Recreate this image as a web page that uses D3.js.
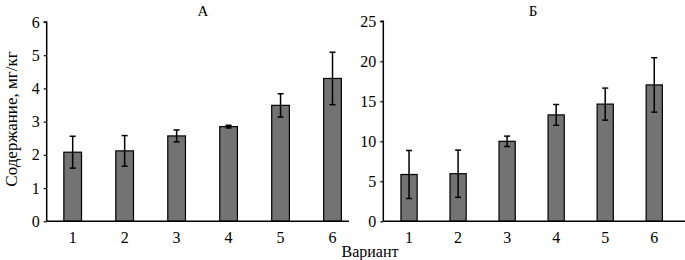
<!DOCTYPE html>
<html><head><meta charset="utf-8">
<script src="https://cdn.jsdelivr.net/npm/d3@7"></script>
<style>body{margin:0;background:#fff}svg{display:block}text{font-family:"Liberation Serif","DejaVu Serif",serif}</style>
</head><body>
<svg id="c" width="685" height="260"></svg>
<script>
const categories = ["1","2","3","4","5","6"];
const valuesA = [2.08, 2.12, 2.57, 2.85, 3.49, 4.30];
const errorsA = [0.48, 0.46, 0.18, 0.04, 0.35, 0.79];
const valuesB = [5.85, 5.95, 10.0, 13.3, 14.65, 17.05];
const errorsB = [3.0, 2.95, 0.65, 1.3, 2.0, 3.4];
const ticksA = [0,1,2,3,4,5,6];
const ticksB = [0,5,10,15,20,25];
const titles = ["А","Б"];
const yLabel = "Содержание, мг/кг";
const xLabel = "Вариант";

const svg = d3.select("#c");
const y0 = 221.3;

function panel(cfg){
  const g = svg.append("g");
  const x = d3.scaleBand().domain(categories).range(cfg.xr).paddingInner(cfg.pi).paddingOuter(cfg.po);
  const y = d3.scaleLinear().domain([0, cfg.max]).range([y0, y0 - cfg.ppu*cfg.max]);
  g.selectAll("rect.bar").data(cfg.vals).enter().append("rect")
    .attr("x",(d,i)=>x(categories[i])).attr("width",x.bandwidth())
    .attr("y",d=>y(d)).attr("height",d=>y(0)-y(d))
    .attr("fill","#737373").attr("stroke","#000").attr("stroke-width",1.2);
  const eb = g.selectAll("g.eb").data(cfg.vals).enter().append("g");
  const cx = i => x(categories[i]) + x.bandwidth()/2;
  eb.append("line").attr("x1",(d,i)=>cx(i)).attr("x2",(d,i)=>cx(i))
    .attr("y1",(d,i)=>y(d+cfg.errs[i])).attr("y2",(d,i)=>y(d-cfg.errs[i]))
    .attr("stroke","#000").attr("stroke-width",1.5);
  [1,-1].forEach(s=>{
    eb.append("line").attr("x1",(d,i)=>cx(i)-3).attr("x2",(d,i)=>cx(i)+3)
      .attr("y1",(d,i)=>y(d+s*cfg.errs[i])).attr("y2",(d,i)=>y(d+s*cfg.errs[i]))
      .attr("stroke","#000").attr("stroke-width",1.5);
  });
  const ya = g.append("g").attr("transform",`translate(${cfg.xr[0]},0)`)
    .call(d3.axisLeft(y).tickValues(cfg.ticks).tickSize(3).tickPadding(4).tickFormat(d3.format("d")));
  ya.select(".domain").attr("stroke-width",1.5).attr("d",`M-3,${y(cfg.max)}H0V${y0}`);
  ya.selectAll(".tick line").attr("stroke-width",1.2);
  ya.selectAll("text").attr("font-size",16).attr("fill","#000").attr("font-family",null);
  const xa = g.append("g").attr("transform",`translate(0,${y0})`)
    .call(d3.axisBottom(x).tickSize(0).tickPadding(10));
  xa.select(".domain").attr("stroke-width",1.5).attr("d",`M${cfg.xr[0]},0H${cfg.xend}`);
  xa.selectAll("text").attr("font-size",16).attr("fill","#000").attr("font-family",null);
  g.append("text").attr("x",cfg.tx).attr("y",16).attr("text-anchor","middle")
    .attr("font-size",15).text(cfg.title);
}

panel({xr:[46.7,358.5], pi:0.66, po:0.33, max:6, ppu:33.22, vals:valuesA, errs:errorsA, ticks:ticksA, xend:349, tx:203, title:titles[0]});
panel({xr:[383.3,680], pi:0.67, po:0.36, max:25, ppu:8.0, vals:valuesB, errs:errorsB, ticks:ticksB, xend:685, tx:533, title:titles[1]});

svg.append("text").attr("transform","translate(17,119) rotate(-90)").attr("text-anchor","middle")
  .attr("font-size",17).text(yLabel);
svg.append("text").attr("x",370).attr("y",257).attr("text-anchor","middle")
  .attr("font-size",16).text(xLabel);
</script>
</body></html>
